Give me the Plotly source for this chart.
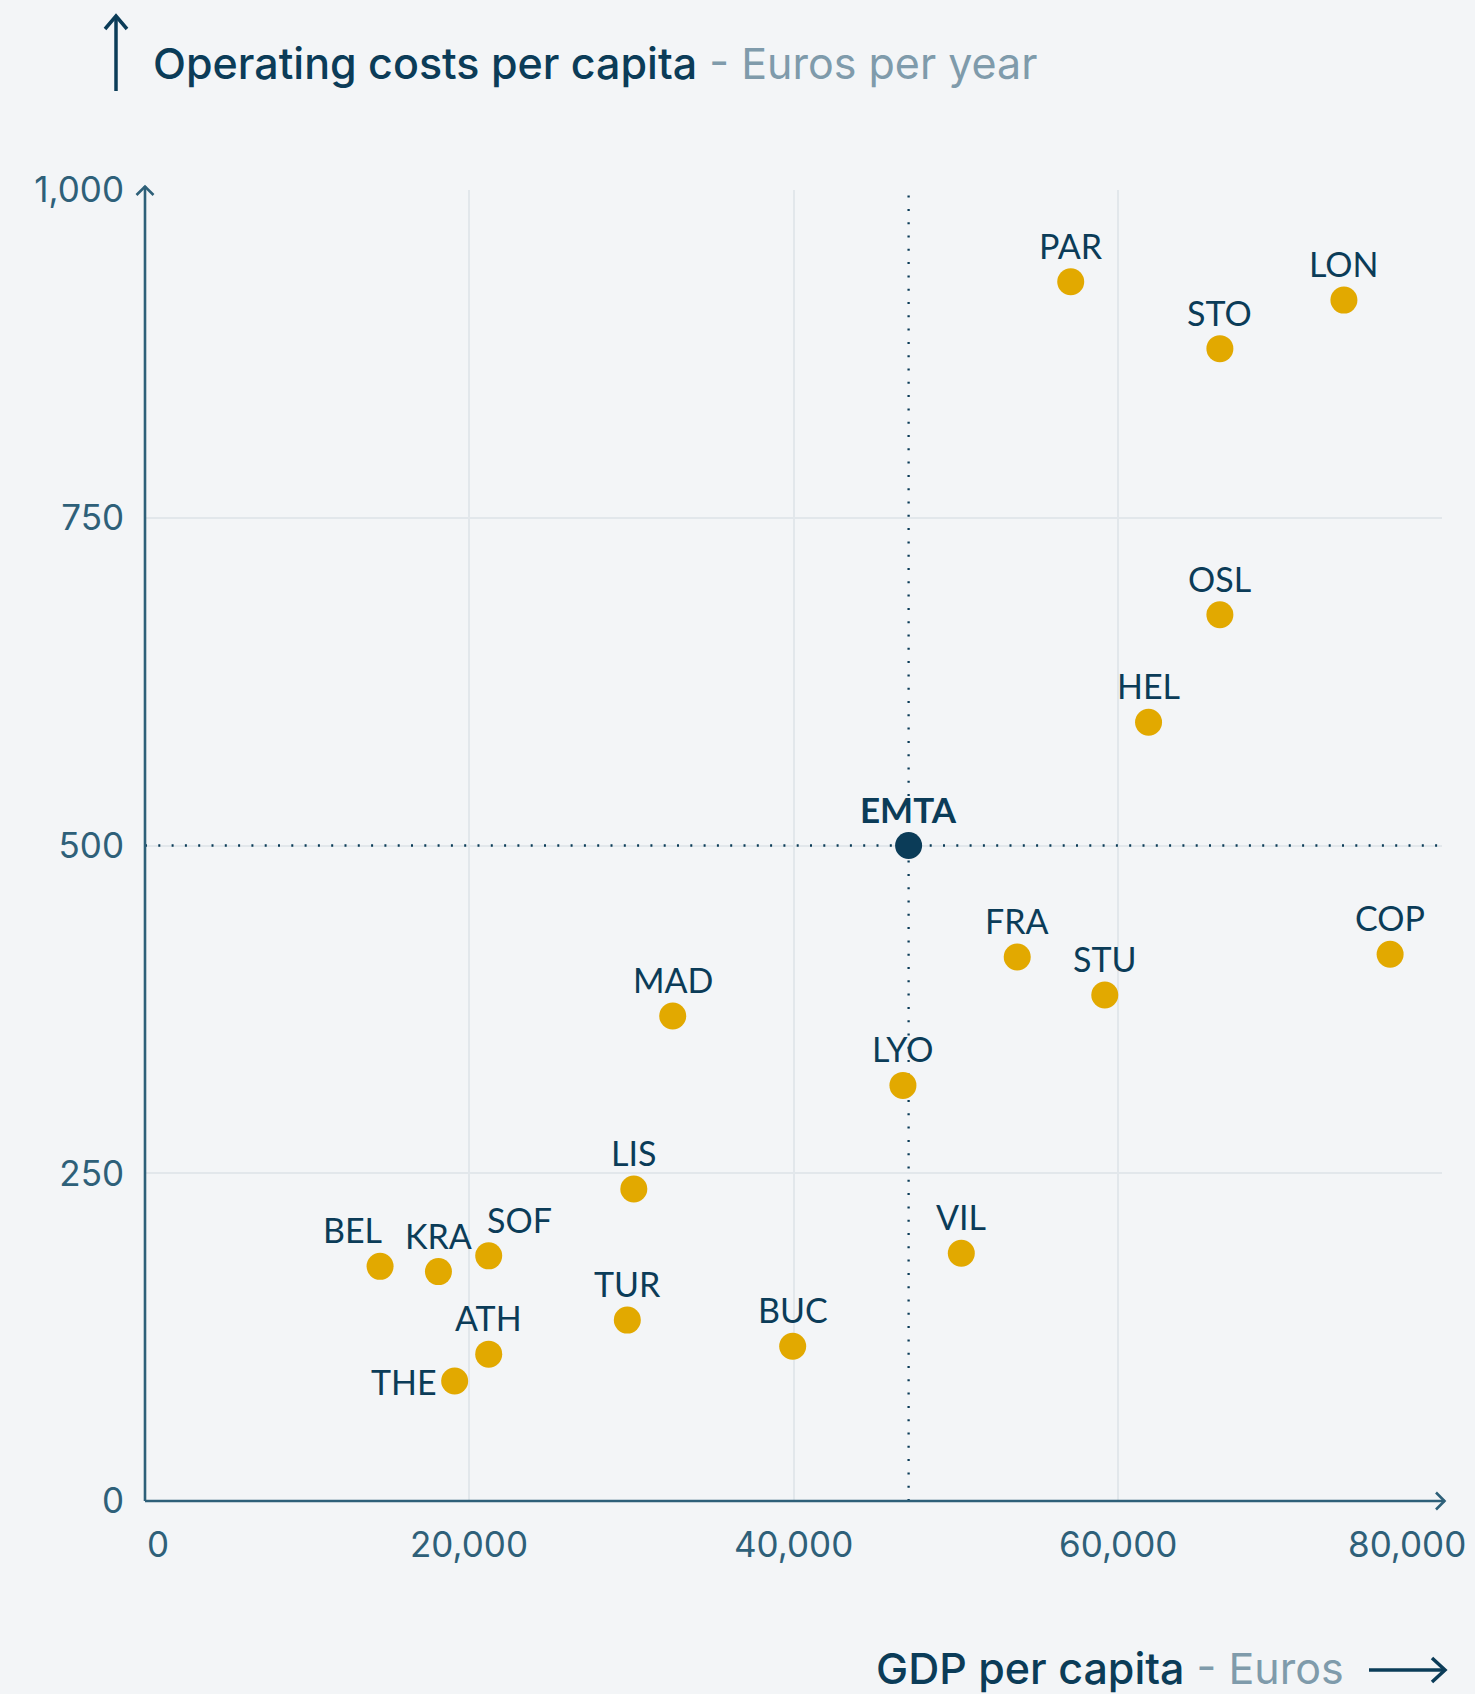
import plotly.graph_objects as go

# Cities: GDP per capita (EUR) and public transport operating costs per capita (EUR / year)
cities = ["PAR", "LON", "STO", "OSL", "HEL", "FRA", "COP", "STU", "MAD", "LYO",
          "LIS", "VIL", "BEL", "KRA", "SOF", "TUR", "BUC", "ATH", "THE"]
gdp = [57100, 73950, 66300, 66300, 61900, 53800, 76800, 59200, 32550, 46750,
       30150, 50350, 14500, 18100, 21200, 29750, 39950, 21200, 19100]
costs = [930, 916, 879, 676, 594, 415, 417, 386, 370, 317,
         238, 189, 179, 175, 187, 138, 118, 112, 91.5]

# EMTA average
avg_name = "EMTA"
avg_gdp = 47100
avg_cost = 500

x_ticks = [0, 20000, 40000, 60000, 80000]
x_tick_text = ["0", "20,000", "40,000", "60,000", "80,000"]
y_ticks = [0, 250, 500, 750, 1000]
x_range = [0, 80000]
y_range = [0, 1000]

# label nudges (px) for crowded points; "left" puts the label beside the dot
label_dx = {"BEL": -28, "SOF": 31}
label_side = {"THE": "left"}

FONT = "Lato"
TFONT = "Inter"
NAVY = "#0b3c58"
AXIS = "#2e6079"
GREY = "#7f9bab"
GOLD = "#e2a900"
GRID = "#e2e7eb"
BG = "#f3f5f7"

W, H = 1475, 1694
L, R, T, B = 145, 33, 190, 193
PW, PH = W - L - R, H - T - B


def px(xp):
    return (xp - L) / PW


def py(yp):
    return (H - B - yp) / PH


fig = go.Figure()

# dotted reference lines through the average (drawn first so the dots sit on top)
dot_line = dict(color=NAVY, width=2.3, dash="2px,11.3px")
fig.add_trace(go.Scatter(x=[avg_gdp, avg_gdp], y=y_range, mode="lines", line=dot_line,
                         hoverinfo="skip", showlegend=False))
fig.add_trace(go.Scatter(x=x_range, y=[avg_cost, avg_cost], mode="lines", line=dot_line,
                         hoverinfo="skip", showlegend=False))

fig.add_trace(go.Scatter(
    x=gdp, y=costs, mode="markers",
    marker=dict(size=27, color=GOLD, line=dict(width=0)),
    hoverinfo="skip", showlegend=False))

fig.add_trace(go.Scatter(
    x=[avg_gdp], y=[avg_cost], mode="markers",
    marker=dict(size=27, color=NAVY, line=dict(width=0)),
    hoverinfo="skip", showlegend=False))

annotations = []
for name, xv, yv in zip(cities, gdp, costs):
    if label_side.get(name) == "left":
        annotations.append(dict(x=xv, y=yv, xref="x", yref="y", text=name, showarrow=False,
                                xanchor="right", yanchor="middle", xshift=-16,
                                font=dict(family=FONT, size=34, color=NAVY)))
    else:
        annotations.append(dict(x=xv, y=yv, xref="x", yref="y", text=name, showarrow=False,
                                xanchor="center", yanchor="bottom", yshift=14,
                                xshift=label_dx.get(name, 0),
                                font=dict(family=FONT, size=34, color=NAVY)))

annotations.append(dict(x=avg_gdp, y=avg_cost, xref="x", yref="y", text="<b>" + avg_name + "</b>",
                        showarrow=False, xanchor="center", yanchor="bottom", yshift=14,
                        font=dict(family=FONT, size=35, color=NAVY)))

# x tick labels; the outer ones are kept inside the frame
for i, (tv, tt) in enumerate(zip(x_ticks, x_tick_text)):
    if i == 0:
        anchor, shift = "left", 0
    elif i == len(x_ticks) - 1:
        anchor, shift = "right", 26
    else:
        anchor, shift = "center", 0
    annotations.append(dict(x=tv, y=0, xref="x", yref="y", text=tt, showarrow=False,
                            xanchor=anchor, yanchor="middle", xshift=shift, yshift=-43,
                            font=dict(family=TFONT, size=35, color=AXIS)))

# axis titles
annotations.append(dict(x=px(151), y=py(63), xref="paper", yref="paper", showarrow=False,
                        xanchor="left", yanchor="middle",
                        text="<span style='font-weight:500'>Operating costs per capita</span>"
                             "<span style='color:" + GREY + "'> - Euros per year</span>",
                        font=dict(family=TFONT, size=43, color=NAVY, weight=400)))
annotations.append(dict(x=px(1346), y=py(1668), xref="paper", yref="paper", showarrow=False,
                        xanchor="right", yanchor="middle",
                        text="<span style='font-weight:500'>GDP per capita</span>"
                             "<span style='color:" + GREY + "'> - Euros</span>",
                        font=dict(family=TFONT, size=43, color=NAVY, weight=400)))

shapes = []
# title arrows
shapes.append(dict(type="line", xref="paper", yref="paper", x0=px(116), x1=px(116),
                   y0=py(91), y1=py(16), line=dict(color=NAVY, width=3.5)))
shapes.append(dict(type="path", xref="paper", yref="paper",
                   path=f"M{px(105)},{py(29)} L{px(116)},{py(16)} L{px(127)},{py(29)}",
                   line=dict(color=NAVY, width=3.5)))
shapes.append(dict(type="line", xref="paper", yref="paper", x0=px(1369), x1=px(1445),
                   y0=py(1670), y1=py(1670), line=dict(color=NAVY, width=3.5)))
shapes.append(dict(type="path", xref="paper", yref="paper",
                   path=f"M{px(1432)},{py(1658)} L{px(1445)},{py(1670)} L{px(1432)},{py(1682)}",
                   line=dict(color=NAVY, width=3.5)))
# axis lines with open arrowheads
shapes.append(dict(type="line", xref="paper", yref="paper", x0=0, x1=0,
                   y0=0, y1=py(186), line=dict(color=AXIS, width=2.6)))
shapes.append(dict(type="path", xref="paper", yref="paper",
                   path=f"M{px(136.5)},{py(195)} L{px(145)},{py(186.5)} L{px(153.5)},{py(195)}",
                   line=dict(color=AXIS, width=2.6)))
shapes.append(dict(type="line", xref="paper", yref="paper", x0=0, x1=px(1445),
                   y0=0, y1=0, line=dict(color=AXIS, width=2.6)))
shapes.append(dict(type="path", xref="paper", yref="paper",
                   path=f"M{px(1436)},{py(1492.5)} L{px(1444.5)},{py(1501)} L{px(1436)},{py(1509.5)}",
                   line=dict(color=AXIS, width=2.6)))

for s in shapes:
    fig.add_shape(**s)

fig.update_layout(
    width=W, height=H,
    margin=dict(l=L, r=R, t=T, b=B, pad=0),
    paper_bgcolor=BG, plot_bgcolor=BG,
    font=dict(family=FONT, color=AXIS),
    annotations=annotations,
    showlegend=False,
)
fig.update_xaxes(range=x_range, tickvals=x_ticks, showticklabels=False,
                 showgrid=True, gridcolor=GRID, gridwidth=2, zeroline=False,
                 showline=False, ticks="", fixedrange=True)
fig.update_yaxes(range=y_range, tickvals=y_ticks, tickformat=",",
                 showgrid=True, gridcolor=GRID, gridwidth=2, zeroline=False,
                 showline=False, ticks="", ticklabelstandoff=20,
                 tickfont=dict(family=TFONT, size=35, color=AXIS), fixedrange=True)

fig.write_html("out.html")
